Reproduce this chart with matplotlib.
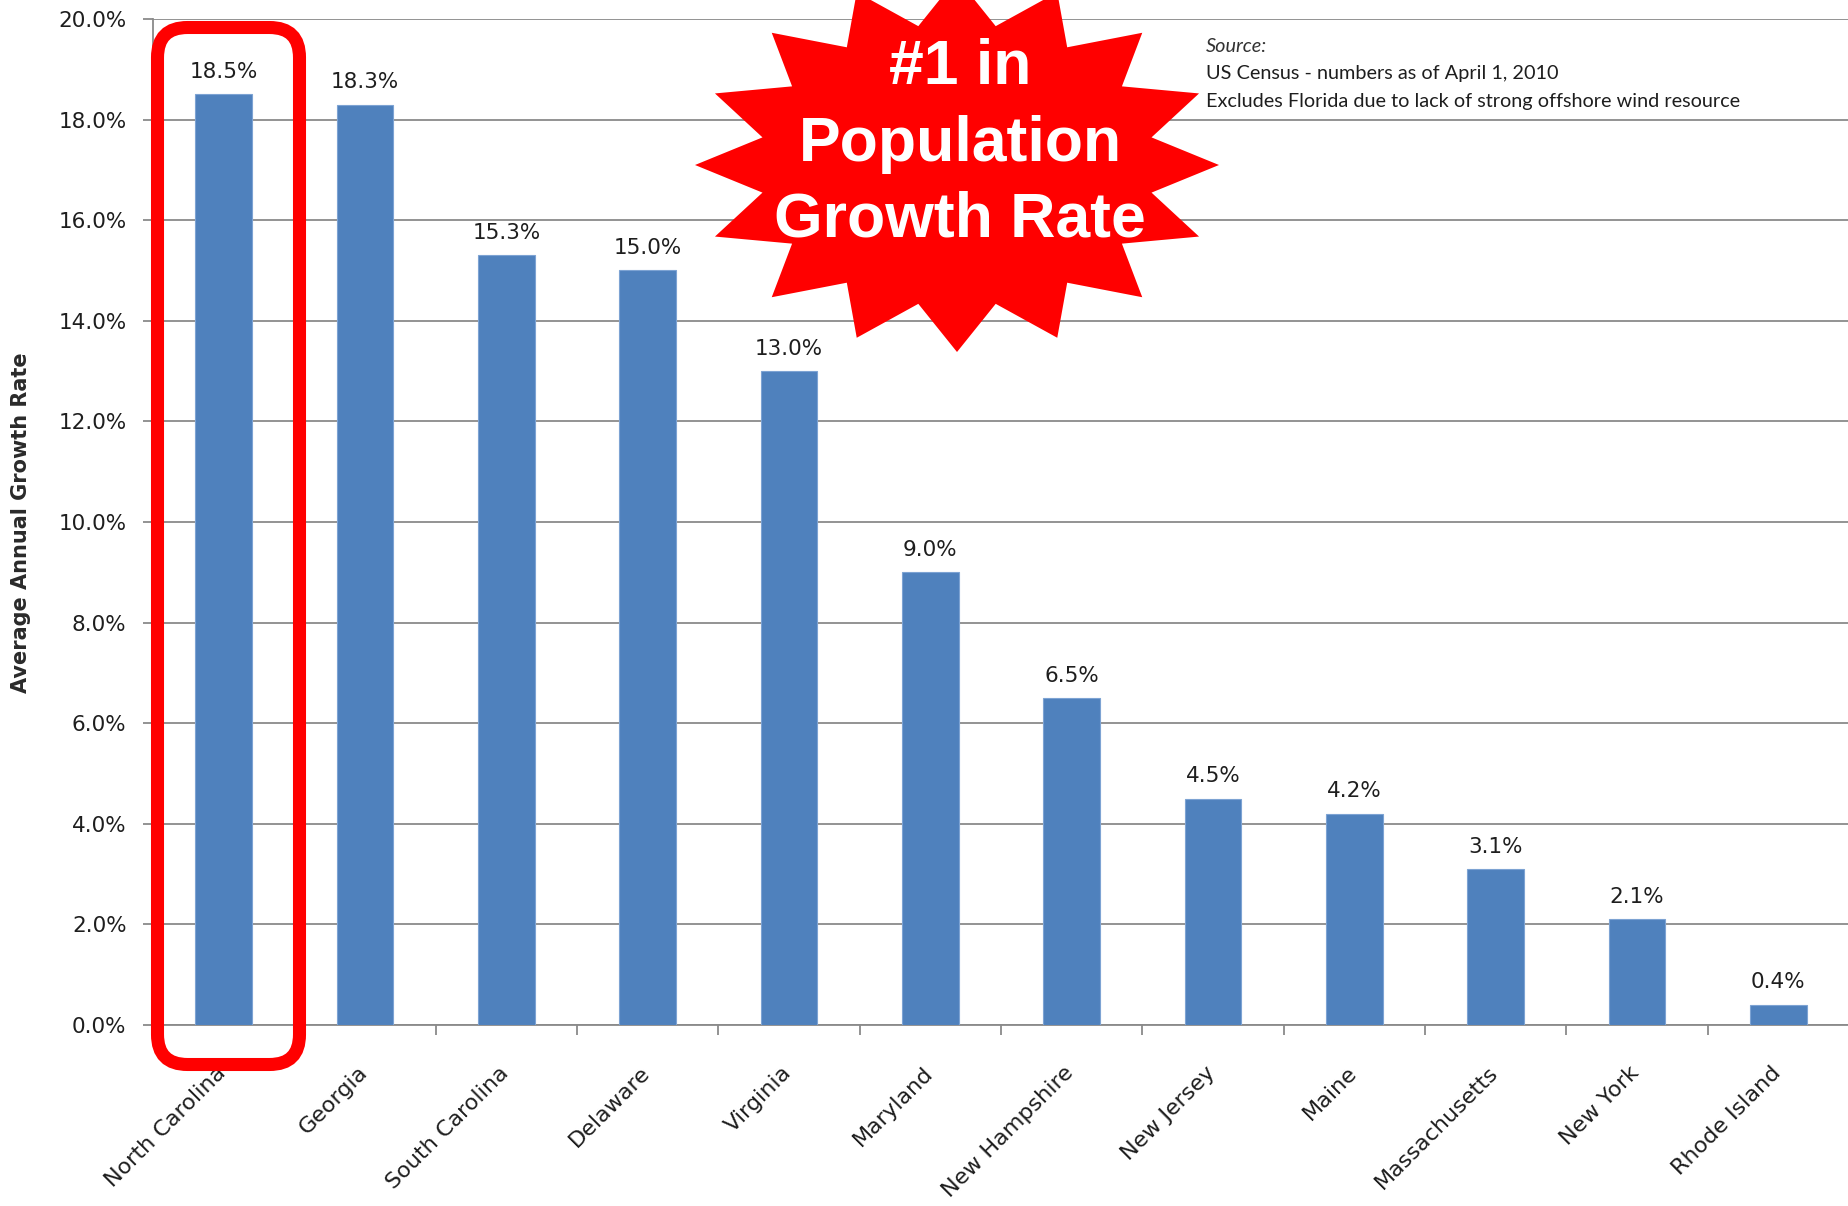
import numpy as np
import matplotlib.pyplot as plt
import matplotlib.transforms as mtransforms
from matplotlib.patches import Polygon, FancyBboxPatch
from matplotlib.ticker import FuncFormatter, MultipleLocator

W, H = 1849, 1206

states = ["North Carolina", "Georgia", "South Carolina", "Delaware", "Virginia",
          "Maryland", "New Hampshire", "New Jersey", "Maine", "Massachusetts",
          "New York", "Rhode Island"]
growth = [18.5, 18.3, 15.3, 15.0, 13.0, 9.0, 6.5, 4.5, 4.2, 3.1, 2.1, 0.4]

source_lines = ["US Census - numbers as of April 1, 2010",
                "Excludes Florida due to lack of strong offshore wind resource"]
badge_lines = ["#1 in", "Population", "Growth Rate"]

bar_color = "#4F81BD"
grid_color = "#8a8a8a"
text_color = "#1e1e1e"

fig = plt.figure(figsize=(W / 100, H / 100), dpi=100)
# axes box in pixels: left 153, top 19, bottom 1025, right edge of the image
ax = fig.add_axes([153 / W, 1 - 1025 / H, (W - 153) / W, (1025 - 19) / H])

x = np.arange(len(states))
bars = ax.bar(x, growth, width=0.40, color=bar_color, edgecolor="#7da3d3",
              linewidth=0.8, zorder=3)

for xi, v in zip(x, growth):
    ax.annotate(f"{v:.1f}%", (xi, v), xytext=(0, 9), textcoords="offset points",
                ha="center", va="bottom", fontsize=15.5, color=text_color)

ax.set_xlim(-0.5, len(states) - 0.5)
ax.set_ylim(0, 20)
ax.yaxis.set_major_locator(MultipleLocator(2))
ax.yaxis.set_major_formatter(FuncFormatter(lambda v, _: f"{v:.1f}%"))
ax.yaxis.grid(True, color=grid_color, linewidth=1.3, zorder=0)
ax.set_axisbelow(True)

# category labels at bar centres, tick marks on the category boundaries
ax.set_xticks(x)
ax.set_xticklabels(states, rotation=45, ha="right", va="top",
                   rotation_mode="anchor", fontsize=16, color=text_color)
ax.tick_params(axis="x", which="major", length=0, pad=27)
shift = mtransforms.ScaledTranslation(-8 / 100, 0, fig.dpi_scale_trans)
for lbl in ax.get_xticklabels():
    lbl.set_transform(lbl.get_transform() + shift)
ax.set_xticks(np.arange(-0.5, len(states)), minor=True)
ax.tick_params(axis="x", which="minor", length=7, width=1.3, color=grid_color)
ax.tick_params(axis="y", length=7, width=1.3, color=grid_color, pad=12,
               labelsize=15.5, labelcolor=text_color)

for side in ["top", "right"]:
    ax.spines[side].set_visible(False)
for side in ["left", "bottom"]:
    ax.spines[side].set_color(grid_color)
    ax.spines[side].set_linewidth(1.3)

fig.text(21 / W, 1 - 523 / H, "Average Annual Growth Rate", rotation=90,
         ha="center", va="center", fontsize=15, weight="bold", color="#2a2a2a")

# source note
fig.text(1206 / W, 1 - 47 / H, "Source:", style="italic", family="Lato",
         fontsize=14.3, color="#333333", va="center")
for i, line in enumerate(source_lines):
    fig.text(1206 / W, 1 - (74 + 27 * i) / H, line, family="Lato",
             fontsize=14.3, color=text_color, va="center")

# red burst badge, 16 points, centre and radii in pixels
cx, cy, rx, ry, inner = 957, 165, 262, 187, 0.757
ang = np.deg2rad(np.arange(32) * 11.25)
rad = np.where(np.arange(32) % 2 == 0, 1.0, inner)
pts = np.column_stack([cx + rx * rad * np.cos(ang), (H - cy) + ry * rad * np.sin(ang)])
fig.add_artist(Polygon(pts, closed=True, facecolor="#ff0000", edgecolor="none",
                       transform=None, zorder=10))
for line, base in zip(badge_lines, [84, 161, 237]):
    fig.text(960 / W, 1 - base / H, line, ha="center", va="baseline",
             family="Liberation Sans", weight="bold", fontsize=45,
             color="white", zorder=11)

# rounded highlight around the first bar
fig.add_artist(FancyBboxPatch((157.5, H - 1064.5), 142, 1037,
                              boxstyle="round,pad=0,rounding_size=30",
                              facecolor="none", edgecolor="#ff0000",
                              linewidth=9.4, transform=None, zorder=10))

fig.savefig("out.png", dpi=100)
